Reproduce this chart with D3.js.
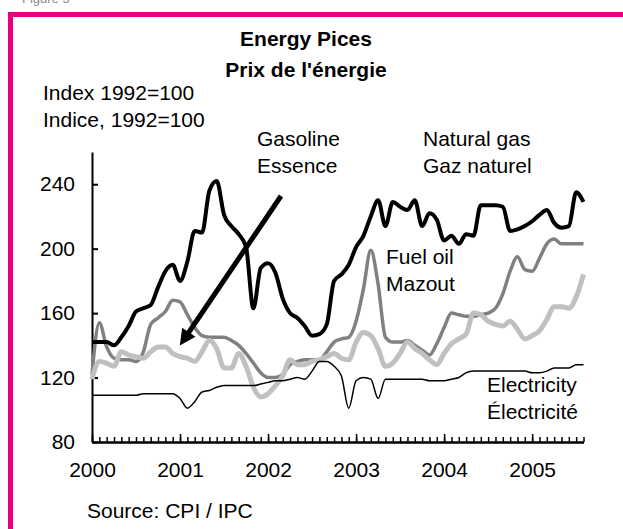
<!DOCTYPE html>
<html>
<head>
<meta charset="utf-8">
<script src="https://cdn.jsdelivr.net/npm/d3@7"></script>
<style>
  body { margin: 0; background: #fff; }
  svg text { font-family: "Liberation Sans", Arial, sans-serif; }
</style>
</head>
<body>
<div id="chart"></div>
<script>

// monthly, Jan 2000 .. Aug 2005
const startYear = 2000;
const yearLabels = ["2000", "2001", "2002", "2003", "2004", "2005"];
const yTicks = [80, 120, 160, 200, 240];

const naturalGas = [142,142,142,140,145,152,161,163,165,176,186,190,
    180,192,211,210,236,242,221,214,209,201,163,188,
    191,185,169,160,157,152,146,147,153,180,184,190,
    201,208,220,230,214,229,226,224,230,214,222,218,
    205,208,203,209,208,227,227,227,226,211,212,214,
    217,221,224,216,213,214,235,229];

const fuelOil = [122,154,139,132,131,131,130,136,153,157,161,168,
    167,159,151,146,145,145,145,143,140,135,129,123,
    120,120,122,128,130,131,131,131,136,142,144,145,
    155,175,199,178,145,142,142,143,140,137,134,141,
    151,160,159,158,158,159,160,163,172,186,195,187,
    186,194,203,206,203,203,203,203];

const gasoline = [119,130,129,127,136,134,133,132,136,139,139,135,
    133,132,130,136,143,138,126,126,135,127,114,108,
    110,115,121,131,128,128,130,131,133,135,132,131,
    142,148,146,138,127,129,135,142,138,135,131,128,
    135,141,144,147,160,159,155,153,152,155,150,144,
    146,149,156,164,164,163,170,184];

const electricity = [109,109,109,109,109,109,109,110,110,110,110,110,
    107,101,105,111,112,114,115,115,115,115,115,116,
    117,118,118,119,120,119,124,130,130,127,121,101,
    118,120,119,107,119,119,119,119,119,119,118,118,
    118,119,120,123,124,124,124,124,124,124,124,124,
    123,123,124,126,126,126,128,128];

const W = 623, H = 529;

const svg = d3.select("#chart")
    .append("svg")
    .attr("width", W)
    .attr("height", H);

// pink frame
svg.append("text")
    .attr("x", 22).attr("y", 3)
    .attr("font-size", 13)
    .attr("fill", "#888")
    .text("Figure 5");

svg.append("rect").attr("x", 8).attr("y", 12).attr("width", W - 8).attr("height", 5).attr("fill", "#E6007E");
svg.append("rect").attr("x", 8).attr("y", 12).attr("width", 5).attr("height", H - 12).attr("fill", "#E6007E");

const x = d3.scaleLinear()
    .domain([0, naturalGas.length - 1])
    .range([92, 583.5]);

const y = d3.scaleLinear()
    .domain([80, 260])
    .range([442, 152]);

// title
svg.append("text")
    .attr("x", 306).attr("y", 46)
    .attr("text-anchor", "middle")
    .attr("font-size", 21).attr("font-weight", "bold")
    .text("Energy Pices");
svg.append("text")
    .attr("x", 306).attr("y", 77)
    .attr("text-anchor", "middle")
    .attr("font-size", 21).attr("font-weight", "bold")
    .text("Prix de l'énergie");

// axes
const yAxis = d3.axisLeft(y)
    .tickValues(yTicks)
    .tickSizeInner(-6)
    .tickSizeOuter(0)
    .tickPadding(17);

svg.append("g")
    .attr("transform", "translate(92,0)")
    .call(yAxis)
    .call(g => g.select(".domain").attr("stroke-width", 2))
    .call(g => g.selectAll(".tick line").attr("stroke-width", 2))
    .call(g => g.selectAll("text").attr("font-size", 21).attr("font-family", "Liberation Sans, Arial, sans-serif"));

const months = d3.range(naturalGas.length);

const xMinor = d3.axisBottom(x)
    .tickValues(months)
    .tickSizeInner(-5)
    .tickSizeOuter(0)
    .tickFormat("");

svg.append("g")
    .attr("transform", "translate(0,442)")
    .call(xMinor)
    .call(g => g.select(".domain").attr("stroke-width", 2.5))
    .call(g => g.selectAll(".tick line").attr("stroke-width", 1.5));

const xMajor = d3.axisBottom(x)
    .tickValues(yearLabels.map((d, i) => i * 12))
    .tickSizeInner(-8)
    .tickSizeOuter(0)
    .tickPadding(20)
    .tickFormat((d, i) => yearLabels[i]);

svg.append("g")
    .attr("transform", "translate(0,442)")
    .call(xMajor)
    .call(g => g.select(".domain").remove())
    .call(g => g.selectAll(".tick line").attr("stroke-width", 1.5))
    .call(g => g.selectAll("text").attr("font-size", 21).attr("font-family", "Liberation Sans, Arial, sans-serif"));

// lines
const line = d3.line()
    .x((d, i) => x(i))
    .y(d => y(d))
    .curve(d3.curveMonotoneX);

const series = [
    { data: fuelOil, color: "#808080", width: 3.5 },
    { data: gasoline, color: "#C0C0C0", width: 5 },
    { data: electricity, color: "#000", width: 1.5 },
    { data: naturalGas, color: "#000", width: 4 }
];

series.forEach(s => {
    svg.append("path")
        .datum(s.data)
        .attr("d", line)
        .attr("fill", "none")
        .attr("stroke", s.color)
        .attr("stroke-width", s.width)
        .attr("stroke-linejoin", "round");
});

// labels
const labels = [
    { t: ["Index 1992=100", "Indice, 1992=100"], x: 43, y: 100 },
    { t: ["Gasoline", "Essence"], x: 257, y: 146 },
    { t: ["Natural gas", "Gaz naturel"], x: 423, y: 146 },
    { t: ["Fuel oil", "Mazout"], x: 386, y: 264 },
    { t: ["Electricity", "Électricité"], x: 487, y: 392 },
    { t: ["Source: CPI / IPC"], x: 87, y: 518 }
];

labels.forEach(l => {
    l.t.forEach((s, i) => {
        svg.append("text")
            .attr("x", l.x)
            .attr("y", l.y + i * 27)
            .attr("font-size", 21)
            .text(s);
    });
});

// arrow to gasoline
svg.append("defs").append("marker")
    .attr("id", "head")
    .attr("markerUnits", "userSpaceOnUse")
    .attr("viewBox", "0 0 10 10")
    .attr("refX", 2).attr("refY", 5)
    .attr("markerWidth", 18).attr("markerHeight", 16)
    .attr("orient", "auto")
    .append("path")
    .attr("d", "M0,0 L10,5 L0,10 z")
    .attr("fill", "#000");

svg.append("line")
    .attr("x1", 281).attr("y1", 196)
    .attr("x2", 187).attr("y2", 335)
    .attr("stroke", "#000")
    .attr("stroke-width", 5)
    .attr("marker-end", "url(#head)");

</script>
</body>
</html>
